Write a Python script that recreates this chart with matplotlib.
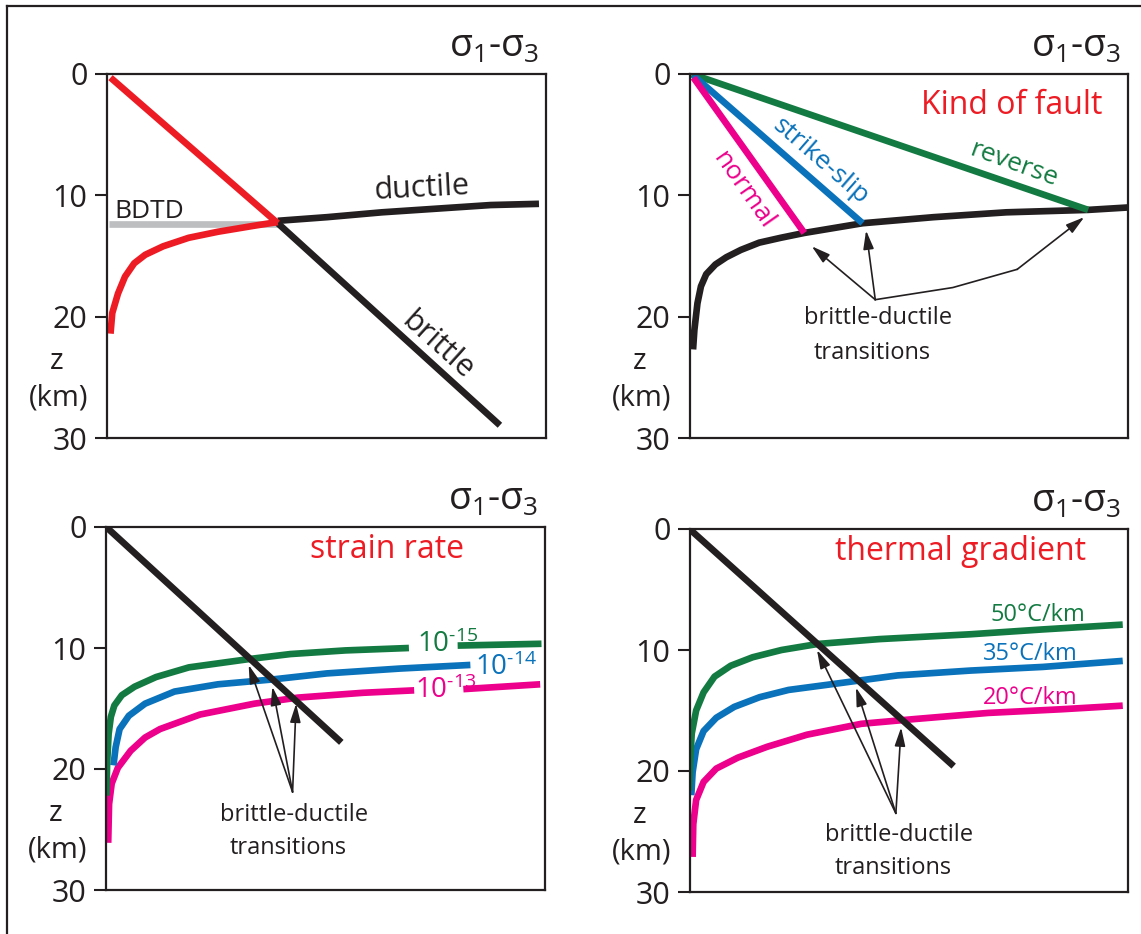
import numpy as np
import matplotlib
import matplotlib.pyplot as plt
from matplotlib.lines import Line2D
matplotlib.use('Agg')

plt.rcParams['font.family'] = ['Open Sans', 'DejaVu Sans']
plt.rcParams['mathtext.fontset'] = 'custom'
plt.rcParams['mathtext.rm'] = 'Open Sans'
plt.rcParams['mathtext.it'] = 'Open Sans:italic'

RED = '#ED1C24'
GREEN = '#137B42'
BLUE = '#0A72BA'
MAGENTA = '#EC008C'
BLACK = '#231F20'
GRAY = '#BCBEC0'

### DATA ###
depth_ticks = [0, 10, 20, 30]

# panel 1: brittle line (x = relative stress 0-100, z = depth km)
p1_brittle_x = [0.8, 38.9, 89.5]
p1_brittle_z = [0.3, 12.3, 28.95]
p1_ductile_red_x = [0.8, 1.2, 2.5, 4.1, 6.2, 8.7, 12.8, 18.6, 25.3, 33.6, 38.9]
p1_ductile_red_z = [21.4, 19.7, 18.1, 16.7, 15.6, 14.9, 14.2, 13.5, 13.0, 12.5, 12.2]
p1_ductile_x = [38.9, 50.1, 62.6, 75.0, 87.4, 98.4]
p1_ductile_z = [12.1, 11.8, 11.4, 11.1, 10.8, 10.7]
p1_bdtd_x = [0.4, 38.9]
p1_bdtd_z = [12.4, 12.4]

# panel 2: kind of fault
p2_reverse_x = [0.4, 90.9]
p2_reverse_z = [0.0, 11.2]
p2_strike_x = [0.7, 39.4]
p2_strike_z = [0.1, 12.3]
p2_normal_x = [0.8, 26.1]
p2_normal_z = [0.3, 13.1]
p2_ductile_x = [0.7, 1.0, 1.7, 2.5, 3.7, 5.8, 8.3, 11.6, 15.8, 20.7, 26.1, 39.4, 55.6, 72.2, 90.9, 100.0]
p2_ductile_z = [22.7, 21.1, 18.9, 17.5, 16.5, 15.7, 15.1, 14.5, 13.9, 13.5, 13.1, 12.3, 11.8, 11.4, 11.2, 11.0]

# panel 3: strain rate
p3_brittle_x = [0.2, 53.6]
p3_brittle_z = [0.05, 17.8]
rate_labels = ['10$^{\\text{-15}}$', '10$^{\\text{-14}}$', '10$^{\\text{-13}}$']
p3_r15_x = [0.1, 0.25, 0.6, 1.1, 1.9, 3.6, 6.5, 11.4, 18.9, 32.9, 42.0, 54.5, 69.0, np.nan, 80.1, 99.2]
p3_r15_z = [22.2, 19.6, 17.1, 15.7, 14.75, 13.9, 13.2, 12.4, 11.6, 10.9, 10.5, 10.2, 10.0, np.nan, 9.8, 9.65]
p3_r14_x = [1.7, 2.2, 3.1, 5.2, 8.9, 15.6, 25.5, 37.9, 50.3, 66.9, 83.0]
p3_r14_z = [19.7, 18.2, 16.7, 15.6, 14.6, 13.6, 13.0, 12.6, 12.1, 11.7, 11.4]
p3_r13_x = [0.5, 0.7, 1.3, 2.7, 5.6, 8.9, 12.3, 21.4, 33.8, 43.7, 58.6, 70.2, np.nan, 81.4, 98.9]
p3_r13_z = [26.1, 22.9, 21.2, 19.9, 18.5, 17.4, 16.7, 15.5, 14.6, 14.1, 13.7, 13.5, np.nan, 13.4, 13.0]

# panel 4: thermal gradient
p4_brittle_x = [0.2, 60.2]
p4_brittle_z = [0.1, 19.6]
gradient_labels = ['50°C/km', '35°C/km', '20°C/km']
p4_g50_x = [-0.2, 0.0, 0.4, 1.4, 3.1, 5.6, 9.3, 14.3, 20.9, 29.2, 43.2, 64.0, 80.5, 98.8]
p4_g50_z = [21.6, 19.4, 16.9, 15.0, 13.5, 12.2, 11.3, 10.6, 10.0, 9.5, 9.1, 8.7, 8.3, 7.9]
p4_g35_x = [0.3, 0.6, 1.4, 3.1, 6.0, 10.1, 15.9, 22.5, 35.0, 47.4, 64.0, 80.5, 98.8]
p4_g35_z = [22.0, 20.1, 18.2, 16.7, 15.6, 14.7, 13.9, 13.3, 12.7, 12.1, 11.7, 11.4, 10.9]
p4_g20_x = [0.6, 0.75, 1.4, 3.1, 6.0, 10.9, 17.6, 26.7, 39.1, 51.5, 68.1, 84.7, 98.8]
p4_g20_z = [27.1, 24.4, 22.4, 20.9, 19.8, 18.9, 18.0, 17.0, 16.1, 15.7, 15.2, 14.9, 14.6]

LW = 4.8


def setup_axes(ax):
    ax.set_xlim(0, 100)
    ax.set_ylim(30, 0)
    ax.set_xticks([])
    ax.set_yticks(depth_ticks)
    ax.tick_params(axis='y', length=9, width=1.5, pad=5, labelsize=22, colors=BLACK)
    for s in ax.spines.values():
        s.set_linewidth(1.6)
        s.set_color(BLACK)
    ax.text(0.985, 1.048, 'σ$_1$-σ$_3$', transform=ax.transAxes, ha='right',
            va='baseline', fontsize=27, color=BLACK)
    tr = ax.get_yaxis_transform()
    ax.text(-0.114, 23.7, 'z', transform=tr, ha='center', va='center', fontsize=21, color=BLACK)
    ax.text(-0.110, 26.7, '(km)', transform=tr, ha='center', va='center', fontsize=21, color=BLACK)


def arrow(ax, tip, base):
    ax.annotate('', xy=tip, xytext=base,
                arrowprops=dict(arrowstyle='-|>,head_length=0.7,head_width=0.2', color=BLACK,
                                lw=1.2, mutation_scale=16, shrinkA=0, shrinkB=0))


def bd_text(ax, x, z1, z2):
    ax.text(x, z1, 'brittle-ductile', ha='center', va='baseline', fontsize=17, color=BLACK)
    ax.text(x - 1.5, z2, 'transitions', ha='center', va='baseline', fontsize=17, color=BLACK)


fig = plt.figure(figsize=(11.41, 9.34), dpi=100)
W, H = 1141, 934

def add_ax(left, top, right, bottom):
    return fig.add_axes([left / W, 1 - bottom / H, (right - left) / W, (bottom - top) / H])

ax1 = add_ax(107, 74, 546, 438)
ax2 = add_ax(690, 74, 1128, 438)
ax3 = add_ax(106, 527, 545, 890)
ax4 = add_ax(690, 529, 1128, 892)
for ax in (ax1, ax2, ax3, ax4):
    setup_axes(ax)

# outer frame (top and left edges)
fig.add_artist(Line2D([7 / W, 1], [1 - 6 / H, 1 - 6 / H], color=BLACK, lw=1.6))
fig.add_artist(Line2D([7 / W, 7 / W], [0, 1 - 6 / H], color=BLACK, lw=1.6))

### PANEL 1 ###
kw = dict(lw=LW, solid_capstyle='butt', solid_joinstyle='round')
ax1.plot(p1_bdtd_x, p1_bdtd_z, color=GRAY, **kw)
ax1.plot(p1_brittle_x[1:], p1_brittle_z[1:], color=BLACK, **kw)
ax1.plot(p1_ductile_x, p1_ductile_z, color=BLACK, **kw)
ax1.plot(p1_brittle_x[:2], p1_brittle_z[:2], color=RED, **kw)
ax1.plot(p1_ductile_red_x, p1_ductile_red_z, color=RED, **kw)
ax1.text(1.7, 11.9, 'BDTD', ha='left', va='baseline', fontsize=19, color=BLACK)
ax1.text(60.5, 10.3, 'ductile', ha='left', va='baseline', fontsize=22, color=BLACK, rotation=3)
ax1.text(75.4, 22.4, 'brittle', ha='center', va='center', fontsize=22, color=BLACK,
         rotation=-42, rotation_mode='anchor')

### PANEL 2 ###
ax2.plot(p2_ductile_x, p2_ductile_z, color=BLACK, **kw)
ax2.plot(p2_reverse_x, p2_reverse_z, color=GREEN, **kw)
ax2.plot(p2_strike_x, p2_strike_z, color=BLUE, **kw)
ax2.plot(p2_normal_x, p2_normal_z, color=MAGENTA, **kw)
ax2.text(73.4, 3.3, 'Kind of fault', ha='center', va='baseline', fontsize=23, color=RED)
ax2.text(74.0, 7.5, 'reverse', ha='center', va='center', fontsize=19, color=GREEN,
         rotation=-20, rotation_mode='anchor')
ax2.text(29.8, 7.2, 'strike-slip', ha='center', va='center', fontsize=19, color=BLUE,
         rotation=-41, rotation_mode='anchor')
ax2.text(12.2, 9.6, 'normal', ha='center', va='center', fontsize=19, color=MAGENTA,
         rotation=-55, rotation_mode='anchor')
arrow(ax2, (27.8, 14.2), (42.3, 18.6))
arrow(ax2, (40.2, 12.9), (42.3, 18.6))
ax2.plot([42.3, 60.0, 74.7], [18.6, 17.6, 16.1], color=BLACK, lw=1.2)
arrow(ax2, (90.0, 11.8), (74.7, 16.1))
bd_text(ax2, 43.0, 20.6, 23.5)

### PANEL 3 ###
ax3.plot(p3_r13_x, p3_r13_z, color=MAGENTA, **kw)
ax3.plot(p3_r14_x, p3_r14_z, color=BLUE, **kw)
ax3.plot(p3_r15_x, p3_r15_z, color=GREEN, **kw)
ax3.plot(p3_brittle_x, p3_brittle_z, color=BLACK, **kw)
ax3.text(64.0, 2.6, 'strain rate', ha='center', va='baseline', fontsize=23, color=RED)
ax3.text(70.9, 10.3, rate_labels[0], ha='left', va='baseline', fontsize=20, color=GREEN)
ax3.text(84.0, 12.2, rate_labels[1], ha='left', va='baseline', fontsize=20, color=BLUE)
ax3.text(70.3, 14.1, rate_labels[2], ha='left', va='baseline', fontsize=20, color=MAGENTA)
for tip in [(32.5, 11.4), (37.9, 13.2), (43.3, 14.6)]:
    arrow(ax3, tip, (42.5, 21.9))
bd_text(ax3, 42.9, 24.3, 27.0)

### PANEL 4 ###
ax4.plot(p4_g20_x, p4_g20_z, color=MAGENTA, **kw)
ax4.plot(p4_g35_x, p4_g35_z, color=BLUE, **kw)
ax4.plot(p4_g50_x, p4_g50_z, color=GREEN, **kw)
ax4.plot(p4_brittle_x, p4_brittle_z, color=BLACK, **kw)
ax4.text(61.7, 2.6, 'thermal gradient', ha='center', va='baseline', fontsize=23, color=RED)
ax4.text(68.5, 7.6, gradient_labels[0], ha='left', va='baseline', fontsize=17, color=GREEN)
ax4.text(66.9, 10.8, gradient_labels[1], ha='left', va='baseline', fontsize=17, color=BLUE)
ax4.text(66.9, 14.5, gradient_labels[2], ha='left', va='baseline', fontsize=17, color=MAGENTA)
for tip in [(29.0, 10.0), (37.9, 13.1), (48.2, 16.4)]:
    arrow(ax4, tip, (47.0, 23.5))
bd_text(ax4, 47.8, 25.8, 28.5)

fig.savefig('out.png', dpi=100)
